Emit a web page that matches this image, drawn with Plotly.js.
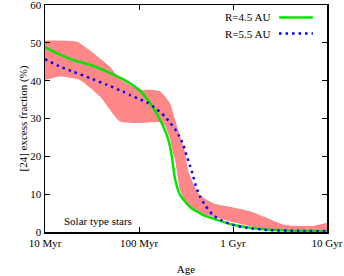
<!DOCTYPE html>
<html>
<head>
<meta charset="utf-8">
<script src="https://cdn.plot.ly/plotly-3.0.1.min.js"></script>
<style>html,body{margin:0;padding:0;background:#fff;}#chart{width:344px;height:276px;}</style>
</head>
<body>
<div id="chart"></div>
<script>
// Ages in Myr
var greenAge = [10, 13.4, 19.9, 30.1, 45.7, 67.6, 80, 102, 131, 155, 180, 199, 214, 224, 242, 273, 349, 480, 676, 1000, 1517, 2477, 4796, 10000];
var greenVal = [48.9, 47.3, 45.5, 44.2, 42.4, 40.4, 39.3, 37.4, 34.1, 31.2, 28.0, 25.4, 22.6, 19.8, 14.0, 9.8, 6.6, 4.5, 3.2, 1.9, 1.1, 0.6, 0.3, 0.2];

var blueAge = [10, 14.4, 19.9, 30.1, 45.7, 67.6, 80, 102, 122, 141, 167, 189, 214, 242, 267, 294, 321, 349, 375, 404, 446, 504, 612, 764, 1000, 1409, 2477, 5000, 10000];
var blueVal = [45.7, 43.7, 42.4, 40.7, 38.9, 37.1, 36.2, 35.1, 34.2, 33.2, 31.8, 30.5, 28.9, 27.2, 25.4, 23.2, 20.2, 17.5, 15.0, 12.0, 9.4, 7.1, 4.5, 3.0, 1.9, 1.1, 0.5, 0.3, 0.2];

var bandUpperAge = [10, 21.9, 30.1, 49.1, 62.8, 102.5, 131, 167, 189, 214, 242, 273, 309, 332, 375, 424, 504, 646, 1000, 1517, 2477, 3400, 4796, 7100, 9520, 10000];
var bandUpperVal = [50.6, 50.3, 48.0, 43.7, 40.5, 37.6, 37.6, 37.2, 35.8, 34.0, 29.6, 25.5, 21.0, 16.4, 13.0, 10.3, 8.8, 7.4, 6.5, 5.5, 3.4, 2.0, 1.6, 1.6, 2.3, 2.4];

var bandLowerAge = [10, 14.4, 23.5, 38.5, 62.8, 102.5, 167, 189, 214, 230, 242, 273, 324, 392, 446, 676, 1000, 1517, 2477, 4000, 10000];
var bandLowerVal = [40.2, 41.1, 40.2, 35.8, 29.2, 28.8, 29.0, 28.0, 24.5, 21.0, 19.0, 11.1, 7.1, 6.0, 5.0, 3.7, 2.6, 1.6, 0.4, 0.2, 0.2];

var xTickVals = [10, 100, 1000, 10000];
var xTickText = ['10 Myr', '100 Myr', '1 Gyr', '10 Gyr'];
var yTickVals = [0, 10, 20, 30, 40, 50, 60];
var yTickText = ['0', '10', '20', '30', '40', '50', '60'];

var seriesNames = ['R=4.5 AU', 'R=5.5 AU'];
var annotationText = 'Solar type stars';

var bandX = bandUpperAge.concat(bandLowerAge.slice().reverse());
var bandY = bandUpperVal.concat(bandLowerVal.slice().reverse());

var font = 'Liberation Serif, Times New Roman, serif';

var traces = [
  {x: bandX, y: bandY, type: 'scatter', mode: 'lines', fill: 'toself',
   fillcolor: 'rgb(255,135,135)', line: {width: 0, color: 'rgba(0,0,0,0)', shape: 'spline', smoothing: 0.5},
   showlegend: false, hoverinfo: 'skip'},
  {x: greenAge, y: greenVal, type: 'scatter', mode: 'lines', name: seriesNames[0],
   line: {color: '#00e600', width: 2.5, shape: 'spline', smoothing: 0.5}, showlegend: false},
  {x: blueAge, y: blueVal, type: 'scatter', mode: 'lines', name: seriesNames[1],
   line: {color: '#0000ff', width: 2.5, dash: '2.5px,4px', shape: 'spline', smoothing: 0.5}, showlegend: false}
];

var layout = {
  width: 344, height: 276,
  margin: {l: 45, r: 17, t: 5, b: 44},
  paper_bgcolor: '#fff', plot_bgcolor: '#fff',
  font: {family: font, size: 11, color: '#000'},
  showlegend: false,
  xaxis: {
    type: 'log', range: [1, 4], automargin: false,
    tickmode: 'array', tickvals: xTickVals, ticktext: xTickText,
    ticks: 'inside', ticklen: 5, tickcolor: '#000', tickwidth: 1,
    showline: true, linecolor: '#000', linewidth: 1.5, mirror: 'ticks',
    showgrid: false, zeroline: false, showticklabels: true, ticklabeloverflow: 'allow',
    tickfont: {family: font, size: 11, color: '#000'},
    title: {text: 'Age', font: {family: font, size: 11}, standoff: 17}
  },
  yaxis: {
    type: 'linear', range: [0, 60], automargin: false,
    tickmode: 'array', tickvals: yTickVals, ticktext: yTickText,
    ticks: 'inside', ticklen: 5, tickcolor: '#000', tickwidth: 1,
    showline: true, linecolor: '#000', linewidth: 1.5, mirror: 'ticks',
    showgrid: false, zeroline: false, showticklabels: true, ticklabeloverflow: 'allow',
    tickfont: {family: font, size: 11, color: '#000'},
    title: {text: '[24] excess fraction (%)', font: {family: font, size: 11}, standoff: 0}
  },
  annotations: [
    {xref: 'paper', yref: 'paper', x: 0.06, y: 0.05, xanchor: 'left', yanchor: 'middle',
     text: annotationText, showarrow: false, font: {family: font, size: 11}},
    {xref: 'paper', yref: 'paper', x: 0.805, y: 0.945, xanchor: 'right', yanchor: 'middle',
     text: seriesNames[0], showarrow: false, font: {family: font, size: 11}},
    {xref: 'paper', yref: 'paper', x: 0.805, y: 0.874, xanchor: 'right', yanchor: 'middle',
     text: seriesNames[1], showarrow: false, font: {family: font, size: 11}}
  ],
  shapes: [
    {type: 'line', xref: 'paper', yref: 'paper', x0: 0.83, x1: 0.95, y0: 0.945, y1: 0.945,
     line: {color: '#00e600', width: 2.5}},
    {type: 'line', xref: 'paper', yref: 'paper', x0: 0.83, x1: 0.95, y0: 0.874, y1: 0.874,
     line: {color: '#0000ff', width: 2.5, dash: '2.5px,4px'}}
  ]
};

Plotly.newPlot('chart', traces, layout, {staticPlot: true, displayModeBar: false});
</script>
</body>
</html>
